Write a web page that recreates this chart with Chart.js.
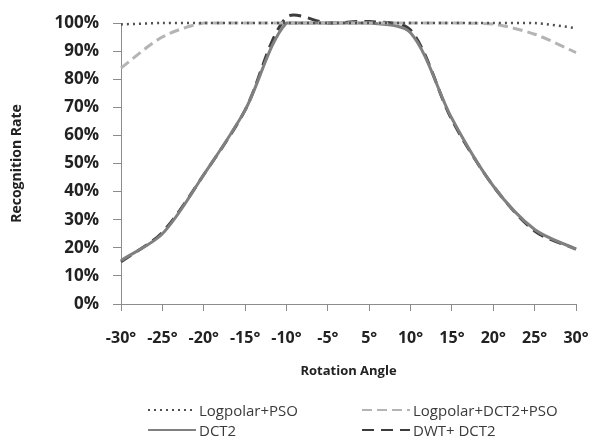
<!DOCTYPE html>
<html><head><meta charset="utf-8">
<script src="https://cdn.jsdelivr.net/npm/chart.js@4.4.0/dist/chart.umd.min.js"></script>
<style>
html,body{margin:0;padding:0;background:#fff;}
#wrap{position:relative;width:596px;height:437px;}
#c{position:absolute;left:0;top:0;}
#legend{position:absolute;left:0;top:400px;width:596px;font-family:"Open Sans",sans-serif;font-size:15px;color:#3a3a3a;}
.item{position:absolute;display:flex;align-items:center;height:20px;white-space:nowrap;}
.item svg{margin-right:3px;}
</style></head>
<body><div id="wrap"><canvas id="c" width="596" height="437"></canvas><div id="legend"></div></div>
<script>
const categories = ["-30°","-25°","-20°","-15°","-10°","-5°","5°","10°","15°","20°","25°","30°"];
const logpolarPSO = [99.5, 100, 100, 100, 100, 100, 100, 100, 100, 100, 100, 98.2];
const logpolarDCT2PSO = [84, 95, 100, 100, 100, 100, 100, 100, 100, 99.6, 96, 89.5];
const dct2 = [15.5, 25, 46, 69, 100, 100, 100, 96.5, 66, 42, 26.5, 19.5];
const dwtDct2 = [15, 25.5, 46, 69, 102, 100, 100.5, 97.5, 65.5, 42, 26, 19.5];
const yTicks = [0,10,20,30,40,50,60,70,80,90,100];

const seriesDefs = [
  {label:"Logpolar+PSO", data:logpolarPSO, color:"#505050", width:2.5, dash:[2,4], tension:0.3},
  {label:"Logpolar+DCT2+PSO", data:logpolarDCT2PSO, color:"#b4b4b4", width:3, dash:[10,5], tension:0.3},
  {label:"DCT2", data:dct2, color:"#808080", width:3, dash:[], tension:0.3},
  {label:"DWT+ DCT2", data:dwtDct2, color:"#3c3c3c", width:3, dash:[12,7], tension:0.3}
];

const datasets = seriesDefs.map(s => ({
  label: s.label, data: s.data, borderColor: s.color, backgroundColor: s.color,
  borderWidth: s.width, borderDash: s.dash, pointRadius: 0, tension: s.tension,
  fill: false, clip: false, borderCapStyle: 'butt'
}));

const chart = new Chart(document.getElementById('c'), {
  type: 'line',
  data: { labels: categories, datasets: datasets },
  options: {
    responsive: false, animation: false, devicePixelRatio: 1,
    layout: { padding: { top: 23, right: 0, bottom: 57, left: 0 } },
    plugins: { legend: { display: false }, tooltip: { enabled: false } },
    scales: {
      x: {
        type: 'category', offset: false,
        grid: { display: true, drawOnChartArea: false, drawTicks: true, tickLength: 7, color: '#8c8c8c', offset: false },
        border: { display: true, color: '#8c8c8c', width: 1 },
        ticks: { color: '#222', font: { family: 'Open Sans', weight: 'bold', size: 16 }, padding: 18, maxRotation: 0, autoSkip: false },
        title: { display: true, text: 'Rotation Angle', color: '#222', font: { family: 'Open Sans', weight: 'bold', size: 13 }, padding: { top: 0, bottom: 1 } },
        afterFit: sc => { sc.height = 76; sc.paddingRight = 20; sc.paddingLeft = 0; }
      },
      y: {
        min: 0, max: 100,
        afterBuildTicks: sc => { sc.ticks = yTicks.map(v => ({ value: v })); },
        grid: { display: true, drawOnChartArea: false, drawTicks: true, tickLength: 8, color: '#8c8c8c' },
        border: { display: true, color: '#8c8c8c', width: 1 },
        ticks: { color: '#222', font: { family: 'Open Sans', weight: 'bold', size: 17 }, padding: 14, callback: v => v + '%' },
        title: { display: true, text: 'Recognition Rate', color: '#222', font: { family: 'Open Sans', weight: 'bold', size: 14 }, padding: { top: 9, bottom: 0 } },
        afterFit: sc => { sc.width = 121; sc.paddingTop = 0; sc.paddingBottom = 0; }
      }
    }
  }
});

// HTML legend, two columns
const legendPos = [
  {x:148, y:0}, {x:362, y:0}, {x:148, y:20}, {x:362, y:20}
];
const lg = document.getElementById('legend');
chart.data.datasets.forEach((ds, i) => {
  const p = legendPos[i];
  const d = document.createElement('div');
  d.className = 'item';
  d.style.left = p.x + 'px'; d.style.top = p.y + 'px';
  const dash = (ds.borderDash && ds.borderDash.length) ? ds.borderDash.join(',') : 'none';
  d.innerHTML = '<svg width="48" height="6"><line x1="0" y1="3" x2="48" y2="3" stroke="' + ds.borderColor +
    '" stroke-width="1.8" stroke-dasharray="' + dash + '"/></svg><span>' + ds.label + '</span>';
  lg.appendChild(d);
});
</script></body></html>
